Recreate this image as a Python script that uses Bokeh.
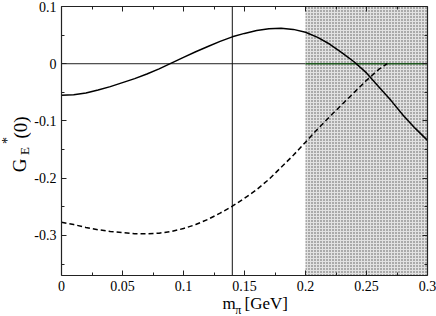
import math
from bokeh.plotting import figure
from bokeh.layouts import row, column
from bokeh.models import (Range1d, LinearAxis, FixedTicker, CustomLabelingPolicy)
from bokeh.core.properties import value
from bokeh.embed import file_html
from bokeh.resources import INLINE

# ---------------- data ----------------
mpi = [0.00, 0.01, 0.02, 0.03, 0.04, 0.05, 0.06, 0.07, 0.08, 0.09, 0.10,
       0.11, 0.12, 0.13, 0.14, 0.15, 0.16, 0.17, 0.18, 0.19, 0.20,
       0.21, 0.22, 0.23, 0.24, 0.25, 0.26, 0.27, 0.28, 0.29, 0.30]
ge_solid = [-0.055, -0.054, -0.051, -0.046, -0.040, -0.033, -0.026, -0.018, -0.009, 0.001, 0.011,
            0.021, 0.030, 0.039, 0.047, 0.053, 0.058, 0.061, 0.062, 0.060, 0.055,
            0.046, 0.034, 0.019, 0.003, -0.016, -0.040, -0.064, -0.090, -0.113, -0.134]

mpi_dash = [0.00, 0.01, 0.02, 0.03, 0.04, 0.05, 0.06, 0.07, 0.08, 0.09, 0.10,
            0.11, 0.12, 0.13, 0.14, 0.15, 0.16, 0.17, 0.18, 0.19, 0.20,
            0.21, 0.22, 0.23, 0.24, 0.25, 0.26, 0.267]
ge_dash = [-0.277, -0.281, -0.286, -0.290, -0.293, -0.295, -0.297, -0.297, -0.296, -0.293, -0.288,
           -0.281, -0.272, -0.261, -0.249, -0.235, -0.220, -0.202, -0.181, -0.160, -0.137,
           -0.114, -0.092, -0.071, -0.050, -0.029, -0.010, 0.000]

shade_left = [0.2]
shade_right = [0.3]
phys_mpi = [0.14]

x_ticks = [0.0, 0.05, 0.1, 0.15, 0.2, 0.25, 0.3]
x_labels = ["0", "0.05", "0.1", "0.15", "0.2", "0.25", "0.3"]
x_minor = [0.025, 0.075, 0.125, 0.175, 0.225, 0.275]
y_ticks = [-0.3, -0.2, -0.1, 0.0, 0.1]
y_labels = ["-0.3", "-0.2", "-0.1", "0", "0.1"]
y_minor = [-0.35, -0.25, -0.15, -0.05, 0.05]

x_title = ["m", "\u03c0", "[GeV]"]
y_title = ["G", "E", "*", "(0)"]

X0, X1 = 0.0, 0.3
Y0, Y1 = -0.37, 0.1

FONT = "Liberation Serif"
W, H = 436, 316
YL_W = 31          # width of the strip holding the y title
XL_H = 22          # height of the strip holding the x title

# ---------------- main plot ----------------
FW, FH = 366, 269
BL, BT = 61 - YL_W, 6
MAIN_W = W - YL_W
MAIN_H = H - XL_H
BR = MAIN_W - BL - FW
BB = MAIN_H - BT - FH

p = figure(frame_width=FW, frame_height=FH,
           min_border_left=BL, min_border_right=BR, min_border_top=BT, min_border_bottom=BB,
           x_range=Range1d(X0, X1), y_range=Range1d(Y0, Y1),
           output_backend="svg", toolbar_location=None,
           x_axis_location=None, y_axis_location=None)
p.xgrid.visible = False
p.ygrid.visible = False
p.outline_line_color = None
p.title.visible = False

no_labels = CustomLabelingPolicy(
    code="try { for (let i = 0; i < indices.size; i++) indices.unset(i) } catch (e) {} return indices")


def style_axis(ax, ticks, minor, labels, show):
    ax.ticker = FixedTicker(ticks=ticks, minor_ticks=minor)
    ax.major_tick_in = 5
    ax.major_tick_out = 0
    ax.minor_tick_in = 3
    ax.minor_tick_out = 0
    ax.axis_line_color = "#222222"
    ax.major_tick_line_color = "#222222"
    ax.minor_tick_line_color = "#222222"
    ax.axis_line_width = 1.2
    if show:
        ax.major_label_overrides = {t: l for t, l in zip(ticks, labels)}
        ax.major_label_text_font = FONT
        ax.major_label_text_font_size = "14px"
        ax.major_label_text_color = "black"
        ax.major_label_standoff = 5
    else:
        ax.major_label_policy = no_labels
        ax.major_label_text_font_size = "0px"
        ax.major_label_standoff = 0


xb = LinearAxis(); style_axis(xb, x_ticks, x_minor, x_labels, True); p.add_layout(xb, "below")
xa = LinearAxis(); style_axis(xa, x_ticks, x_minor, x_labels, False); p.add_layout(xa, "above")
yl = LinearAxis(); style_axis(yl, y_ticks, y_minor, y_labels, True); p.add_layout(yl, "left")
yr = LinearAxis(); style_axis(yr, y_ticks, y_minor, y_labels, False); p.add_layout(yr, "right")

# shaded region
p.quad(left=shade_left, right=shade_right, bottom=[Y0], top=[Y1],
       fill_color="#e2e2e2", line_color=None,
       hatch_pattern="dot", hatch_color="#555555", hatch_scale=3, hatch_weight=1)

# zero line and physical pion mass
p.line([X0, shade_left[0]], [0, 0], line_color="#222222", line_width=1)
p.line([shade_left[0], X1], [0, 0], line_color="#1f5a1f", line_width=1.3)
p.line([phys_mpi[0], phys_mpi[0]], [Y0, Y1], line_color="#111111", line_width=1)

p.line(mpi, ge_solid, line_color="black", line_width=1.5)
p.line(mpi_dash, ge_dash, line_color="black", line_width=1.5, line_dash="5 3")


# ---------------- title strips (page-pixel coordinates) ----------------
def strip(w, h, x0, y0):
    f = figure(width=w, height=h, x_range=Range1d(x0, x0 + w), y_range=Range1d(y0 + h, y0),
               output_backend="svg", toolbar_location=None,
               min_border_left=0, min_border_right=0, min_border_top=0, min_border_bottom=0,
               x_axis_location=None, y_axis_location=None)
    f.title.visible = False
    f.xgrid.visible = False
    f.ygrid.visible = False
    f.outline_line_color = None
    return f


def txt(f, s, x, y, size, angle=0.0):
    f.text(x=[x], y=[y], text=[s], angle=angle, text_font=value(FONT), text_font_size=size,
           text_baseline="middle", text_align="center", text_color="black")


xs = strip(MAIN_W, XL_H, YL_W, MAIN_H)
txt(xs, x_title[0], 216.5, 303, "17px")
txt(xs, x_title[1], 226.5, 309, "12px")
txt(xs, x_title[2], 257.5, 303, "17px")

ys = strip(YL_W, H, 0, 0)
R = math.pi / 2
txt(ys, y_title[0], 19, 165, "19px", R)
txt(ys, y_title[1], 23.5, 150.5, "13px", R)
txt(ys, y_title[2], 6.5, 140, "14px", R)
txt(ys, y_title[3], 19.5, 127, "19px", R)

layout = row(ys, column(p, xs))
open("out.html", "w").write(file_html(layout, INLINE))
